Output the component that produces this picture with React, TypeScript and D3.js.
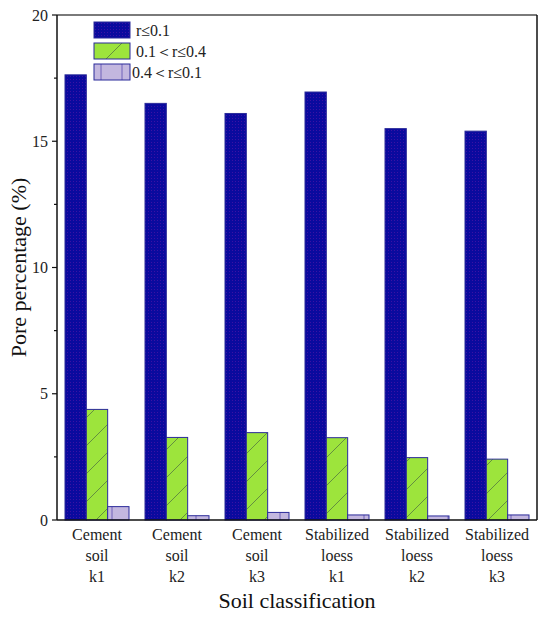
import { useMemo } from 'react'
import * as d3 from 'd3'

const categories = [
  ['Cement', 'soil', 'k1'],
  ['Cement', 'soil', 'k2'],
  ['Cement', 'soil', 'k3'],
  ['Stabilized', 'loess', 'k1'],
  ['Stabilized', 'loess', 'k2'],
  ['Stabilized', 'loess', 'k3'],
]
const seriesNames = ['r≤0.1', '0.1＜r≤0.4', '0.4＜r≤0.1']
const small = [17.63, 16.5, 16.1, 16.95, 15.5, 15.4]
const medium = [4.38, 3.27, 3.46, 3.26, 2.47, 2.41]
const large = [0.53, 0.17, 0.3, 0.2, 0.16, 0.2]
const yTicks = [0, 5, 10, 15, 20]
const yMinorTicks = [2.5, 7.5, 12.5, 17.5]

const W = 550
const H = 617
const margin = { top: 15, right: 13, bottom: 97, left: 57 }
const font = '"Liberation Serif", "Times New Roman", serif'

const fills = ['url(#patBlue)', 'url(#patGreen)', 'url(#patPurple)']

export default function App() {
  const series = [small, medium, large]

  const x = useMemo(
    () =>
      d3
        .scaleBand<number>()
        .domain(d3.range(categories.length))
        .range([margin.left, W - margin.right])
        .paddingInner(0.2)
        .paddingOuter(0.1),
    []
  )
  const xInner = useMemo(
    () => d3.scaleBand<number>().domain([0, 1, 2]).range([0, x.bandwidth()]),
    [x]
  )
  const y = useMemo(
    () => d3.scaleLinear().domain([0, 20]).range([H - margin.bottom, margin.top]),
    []
  )

  const x0 = margin.left
  const x1 = W - margin.right
  const yb = y(0)
  const yt = y(20)

  return (
    <svg
      width={W}
      height={H}
      style={{ position: 'absolute', left: 0, top: 0, background: 'white' }}
      fontFamily={font}
    >
      <defs>
        <pattern id="patBlue" patternUnits="userSpaceOnUse" width={3} height={3}>
          <rect width={3} height={3} fill="#0a0a9e" />
          <rect x={1} y={1} width={1} height={1} fill="#5a18a8" opacity={0.6} />
        </pattern>
        <pattern id="patGreen" patternUnits="userSpaceOnUse" width={28} height={28}>
          <rect width={28} height={28} fill="#9de43c" />
          <line x1={0} y1={28} x2={28} y2={0} stroke="#557a40" strokeWidth={0.8} />
        </pattern>
        <pattern id="patPurple" patternUnits="userSpaceOnUse" width={21} height={21} x={-7}>
          <rect width={21} height={21} fill="#c3b7df" />
          <line x1={14} y1={0} x2={14} y2={21} stroke="#5a4ab0" strokeWidth={0.8} />
        </pattern>
      </defs>

      {/* bars */}
      {series.map((vals, s) =>
        vals.map((v, i) => (
          <rect
            key={`${s}-${i}`}
            x={(x(i) ?? 0) + (xInner(s) ?? 0)}
            y={y(v)}
            width={xInner.bandwidth()}
            height={yb - y(v)}
            fill={fills[s]}
            stroke="#2b2b9a"
            strokeWidth={1}
          />
        ))
      )}

      {/* frame */}
      <line x1={x0} x2={x1} y1={yt} y2={yt} stroke="#7a7a7a" strokeWidth={2} />
      <line x1={x1} x2={x1} y1={yt} y2={yb} stroke="#111" strokeWidth={1.5} />
      <line x1={x0} x2={x1} y1={yb} y2={yb} stroke="#111" strokeWidth={1.5} />
      <line x1={x0} x2={x0} y1={yt} y2={yb} stroke="#111" strokeWidth={1.5} />

      {/* y ticks */}
      {yTicks.map((t) => (
        <g key={t}>
          <line x1={x0 - 5} x2={x0} y1={y(t)} y2={y(t)} stroke="#111" strokeWidth={1.2} />
          <text
            x={x0 - 9}
            y={y(t)}
            dy="0.35em"
            textAnchor="end"
            fontSize={16}
            fill="#222"
          >
            {t}
          </text>
        </g>
      ))}
      {yMinorTicks.map((t) => (
        <line key={t} x1={x0 - 3} x2={x0} y1={y(t)} y2={y(t)} stroke="#111" strokeWidth={1.2} />
      ))}

      {/* category labels */}
      {categories.map((lines, i) => (
        <text
          key={i}
          x={(x(i) ?? 0) + x.bandwidth() / 2}
          y={yb + 20}
          textAnchor="middle"
          fontSize={16}
          fill="#222"
        >
          {lines.map((l, k) => (
            <tspan key={k} x={(x(i) ?? 0) + x.bandwidth() / 2} dy={k === 0 ? 0 : 21}>
              {l}
            </tspan>
          ))}
        </text>
      ))}

      {/* axis titles */}
      <text x={(x0 + x1) / 2} y={608} textAnchor="middle" fontSize={22} fill="#111">
        Soil classification
      </text>
      <text
        transform={`translate(26,${(yt + yb) / 2}) rotate(-90)`}
        textAnchor="middle"
        fontSize={22}
        fill="#111"
      >
        Pore percentage (%)
      </text>

      {/* legend */}
      {seriesNames.map((name, s) => (
        <g key={name} transform={`translate(94,${22 + s * 21})`}>
          <rect width={36} height={16} fill={fills[s]} stroke="#2b2b9a" strokeWidth={1} />
          <text x={s === 2 ? 38 : 42} y={8} dy="0.35em" fontSize={16} fill="#222">
            {name}
          </text>
        </g>
      ))}
    </svg>
  )
}
